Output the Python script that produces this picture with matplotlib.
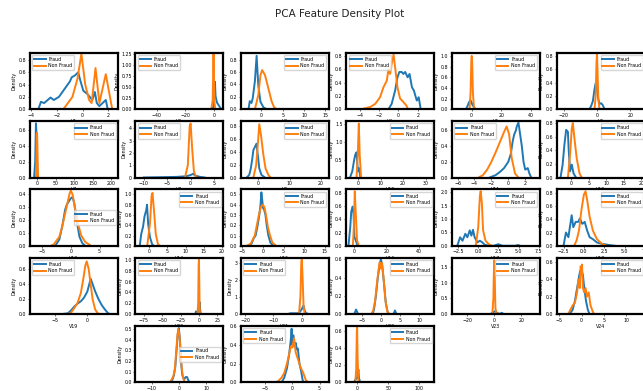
import numpy as np
import matplotlib.pyplot as plt
from matplotlib.ticker import MultipleLocator

# ── Data (x, density) ────────────────────────────────────────────────────
FEATURES = [f"V{i}" for i in range(1, 28)]

FRAUD_X = [
    [-3.45, -3.25, -3.0, -2.5, -2.25, -1.85, -1.0, -0.85, -0.6, -0.35, -0.2, 0.05, 0.35, 0.55, 0.75, 0.95, 1.1, 1.3, 1.8, 1.95],
    [-2, -0.5, 0.2, 0.6, 1.0, 2.0, 3.0, 4.0, 5.0],
    [-3.0, -2.7, -2.3, -2.0, -1.5, -1.1, -0.7, -0.2, 0.5, 1.25],
    [-1.03, -0.7, -0.34, -0.1, 0.1, 0.34, 0.5, 0.7, 0.95, 1.15, 1.4, 1.6, 1.9, 2.1, 2.3],
    [-4, -3, -2, -1, -0.5, 0.5, 1.5, 2.5],
    [-4.5, -3.5, -2.5, -1.5, -0.8, 0, 0.8, 1.5, 2.5, 3.5, 4.5],
    [-8, -5, -3, -1, 1, 3],
    [-10, -7, -3, -1, 0, 0.5, 1, 2, 3],
    [-3.7, -2.9, -2.4, -1.9, -1.6, -1.1, -0.6, -0.3, 0.3, 1.0, 2.1],
    [-3.6, -2.6, -1.9, -1.3, -0.7, -0.15, 0.4, 1.0],
    [-2.2, -1.5, -1.0, -0.5, 0.0, 0.3, 0.5, 0.7, 0.9, 1.0, 1.2, 1.4, 1.6, 1.8, 2.0, 2.3, 2.5, 2.7],
    [-3.0, -2.4, -1.9, -1.4, -0.9, -0.7, -0.3, 0.2, 0.7, 1.4],
    [-2.7, -2.0, -1.5, -1.0, -0.7, -0.3, 0.0, 0.3, 0.6, 1.0, 1.5, 2.0, 2.5],
    [-2.6, -2.2, -1.7, -1.3, -0.8, -0.6, -0.3, 0.2, 0.8, 1.3],
    [-3.5, -2.8, -2.3, -1.8, -1.3, -0.9, -0.6, -0.4, -0.2, 0.0, 0.3, 0.6, 0.9, 1.3, 1.8, 2.5],
    [-3.3, -2.2, -1.6, -0.8, -0.2, 0.4, 1.2, 2.4],
    [-2.6, -2.25, -1.95, -1.6, -1.35, -1.05, -0.85, -0.65, -0.45, -0.1, 0.2, 0.5, 0.8, 1.3, 1.9, 2.5, 3.0, 4.6, 4.9, 5.2],
    [-2.5, -2.2, -1.9, -1.5, -1.3, -1.0, -0.7, -0.5, -0.2, 0.1, 0.4, 0.7, 1.1, 1.6, 2.2, 3.2, 3.8],
    [-4, -3, -2.5, -2, -1.5, -1, -0.5, 0, 0.3, 0.5, 0.8, 1.2, 1.7, 2.2, 2.7, 3.2, 3.5],
    [-5, -4, -3, -1, 0, 0.5, 1, 1.5, 2.5],
    [-5, -4, -1, 0, 0.6, 1, 1.5, 2.5],
    [-7.0, -6.5, -6.0, -2.2, -1.8, -1.3, -0.8, -0.3, 0, 0.3, 0.8, 1.3, 1.8, 2.2, 3.3, 3.7, 4.1],
    [-3, -1, 0, 1, 2, 4, 5.5, 7],
    [-2.7, -2, -1.5, -1, -0.5, -0.3, 0, 0.3, 0.6, 1, 1.4, 1.8],
    [-3, -2.3, -1.8, -1.3, -0.8, -0.4, 0, 0.4, 0.8, 1.2, 1.6, 2, 2.5, 3, 3.5, 4],
    [-2, -1.5, -1, -0.6, -0.3, -0.15, 0, 0.2, 0.4, 0.6, 0.8, 1, 1.3, 1.6, 1.9, 2.1],
    [-5, -3, -1, 0, 1, 2, 3, 5],
]
FRAUD_Y = [
    [0.0, 0.12, 0.10, 0.19, 0.15, 0.20, 0.45, 0.52, 0.55, 0.60, 0.48, 0.30, 0.25, 0.20, 0.15, 0.28, 0.10, 0.05, 0.15, 0.0],
    [0, 0.05, 0.35, 0.62, 0.3, 0.15, 0.1, 0.05, 0],
    [0.0, 0.13, 0.10, 0.18, 0.45, 0.86, 0.38, 0.12, 0.03, 0.0],
    [0.0, 0.08, 0.28, 0.48, 0.56, 0.56, 0.53, 0.56, 0.48, 0.53, 0.33, 0.28, 0.13, 0.18, 0.0],
    [0, 0.05, 0.12, 0.17, 0.15, 0.08, 0.04, 0],
    [0, 0.05, 0.12, 0.30, 0.39, 0.30, 0.15, 0.08, 0.09, 0.06, 0],
    [0, 0.2, 0.69, 0.5, 0.05, 0],
    [0, 0.02, 0.05, 0.1, 0.2, 0.3, 0.15, 0.05, 0],
    [0.0, 0.04, 0.14, 0.30, 0.42, 0.47, 0.52, 0.40, 0.14, 0.04, 0.0],
    [0.0, 0.17, 0.44, 0.63, 0.70, 0.17, 0.26, 0.0],
    [0.0, 0.03, 0.07, 0.12, 0.20, 0.30, 0.45, 0.55, 0.60, 0.65, 0.70, 0.55, 0.40, 0.20, 0.10, 0.12, 0.05, 0.0],
    [0.0, 0.19, 0.48, 0.70, 0.67, 0.43, 0.09, 0.19, 0.06, 0.0],
    [0.0, 0.05, 0.15, 0.28, 0.32, 0.35, 0.37, 0.38, 0.33, 0.20, 0.07, 0.02, 0.0],
    [0.0, 0.23, 0.37, 0.57, 0.70, 0.80, 0.43, 0.17, 0.03, 0.0],
    [0.0, 0.02, 0.07, 0.10, 0.20, 0.30, 0.40, 0.52, 0.45, 0.37, 0.35, 0.30, 0.20, 0.10, 0.03, 0.0],
    [0.0, 0.28, 0.51, 0.59, 0.49, 0.13, 0.08, 0.0],
    [0.0, 0.32, 0.19, 0.45, 0.32, 0.58, 0.38, 0.60, 0.32, 0.13, 0.19, 0.13, 0.04, 0.0, 0.0, 0.06, 0.0, 0.0, 0.03, 0.0],
    [0.0, 0.20, 0.13, 0.46, 0.28, 0.36, 0.36, 0.41, 0.33, 0.36, 0.23, 0.13, 0.10, 0.05, 0.03, 0.01, 0.0],
    [0, 0.01, 0.05, 0.10, 0.14, 0.17, 0.22, 0.30, 0.40, 0.47, 0.40, 0.30, 0.20, 0.12, 0.06, 0.01, 0],
    [0, 0.05, 0.02, 0.05, 0.10, 0.15, 0.22, 0.10, 0],
    [0, 0.05, 0.05, 0.3, 0.5, 0.2, 0.05, 0],
    [0, 0.05, 0, 0, 0.05, 0.2, 0.4, 0.55, 0.6, 0.55, 0.35, 0.12, 0.02, 0, 0, 0.04, 0],
    [0, 0.05, 0.08, 0.10, 0.03, 0.01, 0.04, 0],
    [0, 0.05, 0.15, 0.30, 0.45, 0.50, 0.50, 0.45, 0.30, 0.15, 0.05, 0],
    [0, 0.03, 0.07, 0.15, 0.32, 0.45, 0.51, 0.40, 0.20, 0.08, 0.04, 0.03, 0.05, 0.05, 0.02, 0],
    [0, 0.05, 0.15, 0.30, 0.45, 0.57, 0.40, 0.50, 0.38, 0.42, 0.35, 0.36, 0.20, 0.12, 0.02, 0],
    [0, 0.03, 0.05, 0.05, 0.10, 0.15, 0.05, 0],
]

NONFRAUD_X = [
    [-1.5, -0.8, -0.4, -0.1, 0.2, 0.5, 0.7, 1.0, 1.3, 1.8, 2.3],
    [-2, -1, -0.6, -0.4, -0.1, 0.3, 0.8],
    [-1.5, -0.7, -0.2, 0.2, 0.86, 1.6, 2.4, 3.0, 3.6],
    [-3.8, -2.9, -2.4, -1.9, -1.55, -1.2, -1.03, -0.86, -0.7, -0.5, -0.34, -0.1, 0.17, 0.5, 0.8, 1.0],
    [-1.5, -0.8, -0.3, 0, 0.3, 0.8, 1.5, 2],
    [-1.5, -0.8, -0.3, 0, 0.3, 0.8, 1.5],
    [-3, -2, -1, 0, 1, 2, 3],
    [-1.2, -0.6, -0.2, 0, 0.3, 0.7, 1.2],
    [-1.6, -0.7, -0.1, 0.3, 0.85, 1.6, 2.3, 3.2, 3.9],
    [-0.7, -0.15, 0.3, 0.7, 1.3],
    [-3.5, -3.0, -2.5, -2.0, -1.5, -1.0, -0.5, -0.2, 0.1, 0.4, 0.8, 1.2],
    [-0.9, -0.3, 0.2, 0.5, 0.9, 1.6, 2.4, 3.0],
    [-3.5, -3.0, -2.0, -1.5, -1.0, -0.5, -0.2, 0.0, 0.3, 0.7, 1.2, 1.8, 2.5, 3.5],
    [-0.55, 0.2, 0.65, 0.9, 1.3, 1.8, 2.4, 2.9],
    [-4, -3, -2, -1.5, -1, -0.5, 0, 0.4, 0.8, 1.2, 1.7, 2.3, 3.2],
    [-0.6, 0.0, 0.6, 1.2, 2.0, 3.1],
    [-0.3, 0.0, 0.2, 0.3, 0.45, 0.6, 0.9, 1.3, 1.7],
    [-1.2, -0.9, -0.6, -0.3, 0.0, 0.2, 0.4, 0.7, 1.1, 1.6, 2.2, 2.8],
    [-3, -2.5, -2, -1.5, -1, -0.6, -0.3, -0.1, 0.2, 0.5, 0.8, 1.2, 1.6, 2],
    [-2, -1, -0.4, 0, 0.4, 1, 1.5],
    [-1, -0.5, -0.2, 0, 0.3, 0.6, 1],
    [-2.5, -2, -1.5, -1, -0.5, -0.3, 0, 0.3, 0.7, 1.2, 1.7, 2.2],
    [-1.5, -0.7, -0.2, 0, 0.3, 0.8, 1.5],
    [-3, -2.5, -2, -1.5, -1, -0.7, -0.4, -0.2, 0, 0.1, 0.3, 0.6, 0.9, 1.2, 1.6, 2, 2.5, 2.8],
    [-3.5, -2.8, -2, -1.5, -1, -0.5, -0.2, 0.2, 0.6, 1, 1.5, 2, 2.5],
    [-3, -2.5, -2, -1.5, -1, -0.6, -0.3, 0, 0.3, 0.6, 1, 1.5, 2, 2.5, 3],
    [-3, -1.5, -0.5, 0, 0.7, 2, 3],
]
NONFRAUD_Y = [
    [0.0, 0.2, 0.5, 0.9, 0.4, 0.15, 0.1, 0.67, 0.1, 0.57, 0.0],
    [0, 0.2, 0.9, 1.25, 0.7, 0.15, 0],
    [0.0, 0.23, 0.55, 0.63, 0.55, 0.35, 0.13, 0.03, 0.0],
    [0.0, 0.035, 0.08, 0.18, 0.33, 0.43, 0.60, 0.53, 0.68, 0.82, 0.63, 0.33, 0.16, 0.11, 0.06, 0.0],
    [0, 0.3, 0.9, 1.0, 0.85, 0.3, 0.03, 0],
    [0, 0.2, 0.7, 0.83, 0.6, 0.15, 0],
    [0, 0.2, 0.55, 0.57, 0.4, 0.1, 0],
    [0, 1.0, 4.2, 4.4, 2.5, 0.5, 0],
    [0.0, 0.19, 0.55, 0.82, 0.65, 0.35, 0.14, 0.04, 0.0],
    [0.0, 0.63, 1.5, 0.63, 0.0],
    [0.0, 0.03, 0.10, 0.20, 0.32, 0.45, 0.58, 0.65, 0.55, 0.25, 0.05, 0.0],
    [0.0, 0.33, 0.72, 0.80, 0.60, 0.28, 0.06, 0.0],
    [0.0, 0.01, 0.07, 0.15, 0.25, 0.35, 0.41, 0.43, 0.40, 0.30, 0.18, 0.08, 0.03, 0.0],
    [0.0, 0.43, 0.97, 1.03, 0.70, 0.23, 0.03, 0.0],
    [0, 0.02, 0.10, 0.20, 0.30, 0.38, 0.40, 0.37, 0.28, 0.18, 0.10, 0.03, 0],
    [0.0, 0.28, 0.82, 0.49, 0.08, 0.0],
    [0.0, 0.70, 1.86, 2.05, 1.60, 0.58, 0.19, 0.06, 0.0],
    [0.0, 0.08, 0.23, 0.54, 0.77, 0.82, 0.69, 0.44, 0.23, 0.10, 0.03, 0.0],
    [0, 0.02, 0.08, 0.15, 0.28, 0.48, 0.65, 0.70, 0.60, 0.40, 0.20, 0.06, 0.01, 0],
    [0, 0.2, 0.9, 1.0, 0.7, 0.1, 0],
    [0, 1.0, 3.0, 3.2, 2.0, 0.5, 0],
    [0, 0.04, 0.15, 0.35, 0.52, 0.57, 0.50, 0.56, 0.40, 0.15, 0.03, 0],
    [0, 0.5, 1.6, 1.7, 1.2, 0.2, 0],
    [0, 0.05, 0.10, 0.13, 0.25, 0.40, 0.30, 0.55, 0.45, 0.57, 0.30, 0.25, 0.30, 0.20, 0.25, 0.10, 0.03, 0],
    [0, 0.02, 0.06, 0.12, 0.28, 0.45, 0.50, 0.45, 0.30, 0.15, 0.05, 0.01, 0],
    [0, 0.02, 0.05, 0.10, 0.20, 0.30, 0.38, 0.37, 0.47, 0.32, 0.25, 0.16, 0.10, 0.02, 0],
    [0, 0.15, 0.60, 0.64, 0.30, 0.02, 0],
]

XLIMS = [(-4.1, 2.75), (-55, 6.5), (-4.8, 15.8), (-5.4, 3.7), (-13.6, 45.8), (-24, 28.8),
         (-19, 218), (-11.8, 7), (-5.6, 22.5), (-5.3, 33.8), (-6.7, 3.7), (-4, 21),
         (-7.1, 8.2), (-3.8, 20.4), (-5.4, 16), (-4.7, 49.6), (-3.3, 7.6), (-3.3, 7.3),
         (-8.8, 4.7), (-86.4, 33.3), (-21.5, 9.5), (-9.1, 14), (-31.6, 33.5), (-5.5, 14.2),
         (-16, 16.4), (-9.5, 6.7), (-17.6, 124)]
YTOPS = [0.92, 1.28, 0.91, 0.85, 1.06, 0.85,
         0.72, 4.6, 0.87, 1.57, 0.72, 0.83,
         0.44, 1.1, 0.55, 0.85, 2.12, 0.85,
         0.75, 1.04, 3.3, 0.62, 1.79, 0.65,
         0.53, 0.6, 0.66]
YSTEP = [0.2, 0.25, 0.2, 0.2, 0.2, 0.2,
         0.2, 1, 0.2, 0.5, 0.2, 0.2,
         0.1, 0.2, 0.1, 0.2, 0.5, 0.2,
         0.2, 0.2, 1, 0.2, 0.5, 0.2,
         0.1, 0.2, 0.2]
XTICKS = [[-4, -2, 0, 2], [-40, -20, 0], [0, 5, 10, 15], [-4, -2, 0, 2], [0, 20, 40], [-20, 0, 20],
          [0, 50, 100, 150, 200], [-10, -5, 0, 5], [0, 10, 20], [0, 10, 20, 30], [-6, -4, -2, 0, 2], [0, 5, 10, 15, 20],
          [-5, 0, 5], [0, 5, 10, 15, 20], [-5, 0, 5, 10, 15], [0, 20, 40], [-2.5, 0, 2.5, 5, 7.5], [-2.5, 0, 2.5, 5, 7.5],
          [-5, 0], [-75, -50, -25, 0, 25], [-20, -10, 0], [-5, 0, 5, 10], [-20, 0, 20], [-5, 0, 5, 10],
          [-10, 0, 10], [-5, 0, 5], [0, 50, 100]]
LEGEND_LOC = ["upper left", "upper left", "upper right", "upper left", "upper right", "upper right",
              "upper right", "upper left", "upper right", "upper right", "upper left", "upper right",
              "center right", "upper right", "upper right", "upper right", "upper right", "upper right",
              "upper left", "upper left", "upper left", "upper right", "upper right", "upper right",
              "center right", "upper left", "upper right"]

# ── Layout (pixels of the 643x391 canvas) ────────────────────────────────
W, H = 643, 391
AX_W, AX_H = 88, 56.5
COL_LEFT = [30 + 105.4 * c for c in range(6)]
ROW_TOP = [52.7 + 68.3 * r for r in range(5)]
FS = 3.4

fig = plt.figure(figsize=(W / 100, H / 100), dpi=100)
fig.patch.set_facecolor("white")
fig.text(340 / W, 1 - 14 / H, "PCA Feature Density Plot", ha="center", va="center",
         fontsize=7.5, color="#222222")

for i, name in enumerate(FEATURES):
    if i < 24:
        r, c = divmod(i, 6)
    else:
        r, c = 4, i - 24 + 1
    left = COL_LEFT[c] / W
    bottom = 1 - (ROW_TOP[r] + AX_H) / H
    ax = fig.add_axes([left, bottom, AX_W / W, AX_H / H])
    ax.set_facecolor("white")

    ax.plot(FRAUD_X[i], FRAUD_Y[i], color="#1f77b4", lw=1.4, label="Fraud")
    ax.plot(NONFRAUD_X[i], NONFRAUD_Y[i], color="#ff7f0e", lw=1.4, label="Non Fraud")

    ax.set_xlim(*XLIMS[i])
    ax.set_ylim(0, YTOPS[i])
    ax.set_xticks(XTICKS[i])
    ax.yaxis.set_major_locator(MultipleLocator(YSTEP[i]))
    ax.tick_params(labelsize=FS, length=1.5, width=0.4, pad=1)
    ax.set_xlabel(name, fontsize=FS, labelpad=1)
    ax.set_ylabel("Density", fontsize=FS, labelpad=1.5)
    for sp in ax.spines.values():
        sp.set_linewidth(1.6)
        sp.set_color("black")

    ax.legend(loc=LEGEND_LOC[i], fontsize=FS, handlelength=2.4, borderpad=0.4,
              labelspacing=0.3, handletextpad=0.6, framealpha=0.8, fancybox=True)

fig.savefig("out.png", dpi=100)
